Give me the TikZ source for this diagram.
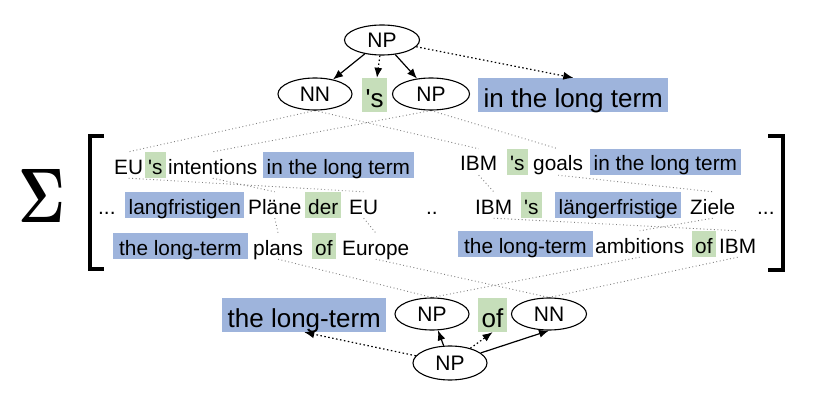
\documentclass[tikz,border=0pt]{standalone}
\usepackage{fontspec}
\setmainfont{Liberation Sans}
\setmonofont{Liberation Sans}
\newfontfamily\lmfont{Latin Modern Roman}
\usepackage{graphicx}
\usetikzlibrary{shapes.geometric,arrows.meta}
\definecolor{hlblue}{RGB}{158,180,220}
\definecolor{hlgreen}{RGB}{198,222,186}
\newcommand{\apos}{{\ttfamily'}}
\pgfdeclarelayer{bg}
\pgfsetlayers{bg,main}
\begin{document}
\begin{tikzpicture}[x=1pt,y=-1pt,
  word/.style={font=\fontsize{20.8}{24}\selectfont, anchor=base west, inner xsep=0pt, inner ysep=0pt, text height=22pt, text depth=4pt},
  bluew/.style={word, fill=hlblue, inner xsep=3.5pt},
  greenw/.style={word, fill=hlgreen, inner xsep=3pt},
  bigword/.style={font=\fontsize{26}{30}\selectfont, anchor=base west, inner ysep=0pt, text height=29pt, text depth=5pt},
  bigblue/.style={bigword, fill=hlblue, inner xsep=5.5pt},
  biggreen/.style={bigword, fill=hlgreen, inner xsep=3.5pt},
  cat/.style={draw, ellipse, line width=1.1pt, inner sep=0pt, minimum width=75pt, minimum height=32pt, font=\fontsize{21}{24}\selectfont},
  tree/.style={line width=1.2pt, -{Latex[length=10pt,width=8pt]}},
  treedot/.style={tree, dash pattern=on 1.5pt off 2.5pt},
  align/.style={black!50, line width=0.9pt, dash pattern=on 0.9pt off 2.6pt},
  brk/.style={line width=4pt}
]
\useasboundingbox (0,0) rectangle (823,420);

% top tree
\node[cat, minimum height=30pt] (rnp) at (382,40) {NP};
\node[cat, minimum width=74pt] (tnn) at (315,94) {NN};
\node[biggreen] (ts) at (362,107) {\apos s};
\node[cat, minimum width=77pt] (tnp) at (431,94) {NP};
\node[bigblue] (tilt) at (478,107) {in the long term};

\draw[tree] (rnp) -- (tnn);
\draw[treedot] (rnp) -- (ts);
\draw[tree] (rnp) -- (tnp);
\draw[treedot] (rnp) -- (tilt.north);

% sum and brackets
\node[inner sep=0pt] (sigma) at (42,196) {\resizebox*{47pt}{53pt}{\lmfont\bfseries Σ}};
\draw[brk] (104,136) -- (89.5,136) -- (89.5,269) -- (104,269);
\draw[brk] (768,136) -- (782.5,136) -- (782.5,270) -- (768,270);

% row 1
\node[word] (eu1) at (114,174) {EU};
\node[greenw] (s1) at (145,174) {\apos s};
\node[word] (int) at (168,174) {intentions};
\node[bluew] (ilt1) at (263,174) {in the long term};
\node[word] (ibm1) at (460,171) {IBM};
\node[greenw] (s2) at (507,171) {\apos s};
\node[word] (goals) at (533,171) {goals};
\node[bluew] (ilt2) at (590,171) {in the long term};

% row 2
\node[word] (dots1) at (98,214) {...};
\node[bluew] (lang) at (125,214) {langfristigen};
\node[word] (plaene) at (248,214) {Pläne};
\node[greenw] (der) at (305,214) {der};
\node[word] (eu2) at (349,214) {EU};
\node[word] (dots2) at (426,214) {..};
\node[word] (ibm2) at (475,214) {IBM};
\node[greenw] (s3) at (521,214) {\apos s};
\node[bluew] (laenger) at (555,214) {längerfristige};
\node[word] (ziele) at (690,214) {Ziele};
\node[word] (dots3) at (757,214) {...};

% row 3
\node[bluew, inner xsep=6pt] (tlt1) at (113,255) {the long-term};
\node[word] (plans) at (253,255) {plans};
\node[greenw] (of1) at (312,255) {of};
\node[word] (europe) at (342,255) {Europe};
\node[bluew, inner xsep=6pt] (tlt2) at (458,253) {the long-term};
\node[word] (ambitions) at (595,253) {ambitions};
\node[greenw] (of2) at (692,253) {of};
\node[word] (ibm3) at (719,253) {IBM};

% bottom tree
\node[bigblue] (btlt) at (222,327) {the long-term};
\node[cat, minimum width=74pt] (bnp) at (432,314) {NP};
\node[biggreen] (bof) at (478,327) {of};
\node[cat] (bnn) at (549,314) {NN};
\node[cat, minimum width=74pt, minimum height=34pt] (rnp2) at (450,363) {NP};

\draw[treedot] (rnp2) -- (btlt.south);
\draw[tree] (rnp2) -- (bnp);
\draw[treedot] (rnp2) -- (bof.south);
\draw[tree] (rnp2) -- (bnn.south);

% alignment lines
\begin{pgfonlayer}{bg}
\fill[white] (0,0) rectangle (823,420);
\draw[align] (tnn.south) -- (eu1.north);
\draw[align] (tnn.south) -- (ibm1.north);
\draw[align] (tnp.south) -- (int.north);
\draw[align] (tnp.south) -- (goals.north);
\draw[align] (eu1.south) -- (eu2.north);
\draw[align] (int.south) -- (plaene.north);
\draw[align] (ibm1.south) -- (ibm2.north);
\draw[align] (goals.south) -- (ziele.north);
\draw[align] (plaene.south) -- (plans.north);
\draw[align] (eu2.south) -- (europe.north);
\draw[align] (ibm2.south) -- (ibm3.north);
\draw[align] (ziele.south) -- (ambitions.north);
\draw[align] (plans.south) -- (bnp.north);
\draw[align] (europe.south) -- (bnn.north);
\draw[align] (ambitions.south) -- (bnp.north);
\draw[align] (ibm3.south) -- (bnn.north);
\end{pgfonlayer}
\end{tikzpicture}
\end{document}
